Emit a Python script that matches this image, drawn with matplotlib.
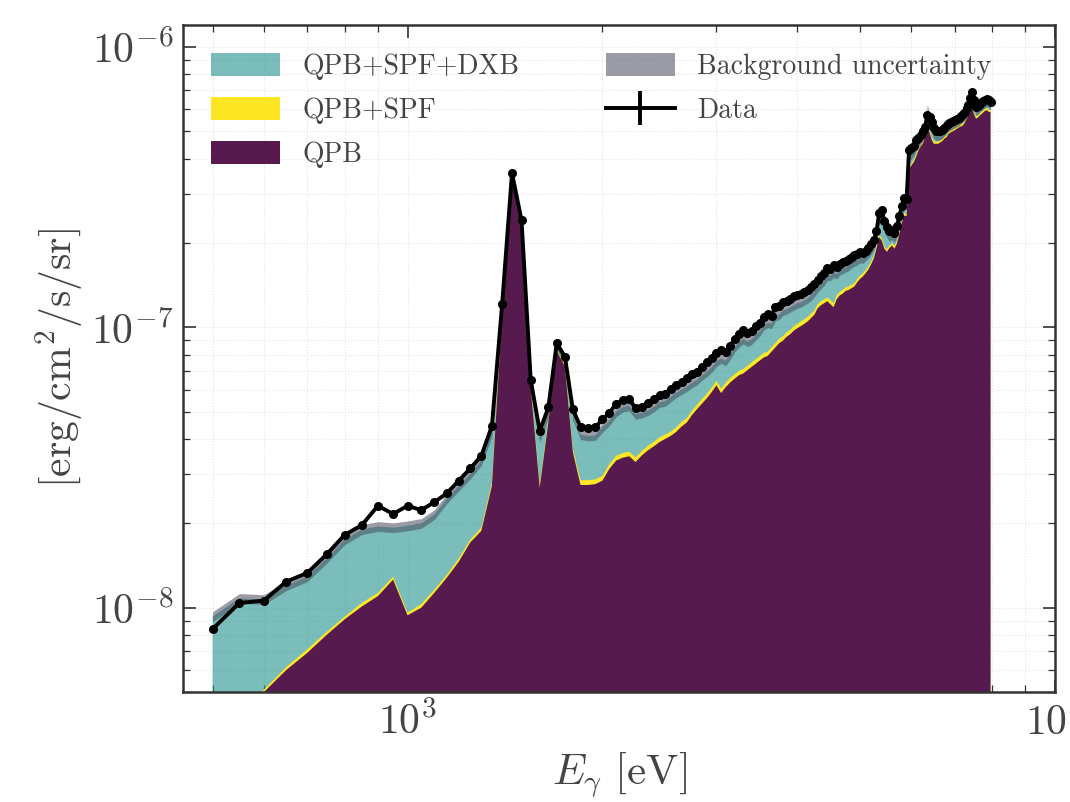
import numpy as np
import matplotlib
matplotlib.use("Agg")
import matplotlib.pyplot as plt
from matplotlib.lines import Line2D
from matplotlib.patches import Patch

# energy bins [eV], 50 eV wide
energy = np.arange(500, 8000, 50)

# all intensities in units of 1e-8 erg/cm^2/s/sr
UNIT = 1e-8

data = [
    0.84, 1.04, 1.06, 1.24, 1.33, 1.55, 1.82, 1.97, 2.31, 2.16,
    2.31, 2.23, 2.38, 2.56, 2.84, 3.14, 3.48, 4.45, 12.1, 35.5,
    24.1, 6.48, 4.27, 5.18, 8.77, 7.87, 5.10, 4.42, 4.39, 4.40,
    4.70, 4.95, 5.35, 5.50, 5.55, 5.15, 5.20, 5.38, 5.55, 5.75,
    5.80, 6.05, 6.25, 6.40, 6.60, 6.80, 6.95, 7.25, 7.50, 7.75,
    8.10, 8.30, 8.15, 8.60, 9.10, 9.50, 9.80, 9.55, 9.70, 10.1,
    10.4, 10.9, 11.2, 11.0, 11.8, 11.9, 12.3, 12.4, 12.6, 12.9,
    13.1, 13.2, 13.4, 13.6, 13.9, 14.3, 14.8, 15.2, 15.6, 16.3,
    16.2, 16.7, 16.4, 16.9, 17.1, 17.3, 17.5, 17.9, 18.1, 18.3,
    18.5, 18.4, 18.8, 19.2, 19.8, 20.5, 22.0, 25.5, 26.3, 24.0,
    22.8, 22.0, 22.3, 21.8, 23.0, 25.0, 27.0, 29.0, 28.6, 43.0,
    43.6, 44.5, 46.7, 47.5, 48.6, 50.0, 52.0, 57.0, 56.5, 54.0,
    51.4, 50.0, 50.3, 50.0, 50.6, 51.5, 52.7, 53.5, 54.1, 54.5,
    55.1, 55.5, 55.9, 56.8, 57.8, 58.5, 60.5, 62.0, 66.0, 69.0,
    64.5, 61.0, 61.5, 62.5, 63.6, 64.0, 64.8, 65.5, 64.9, 63.6,
]

# quiescent particle background
qpb = [
    0.36, 0.42, 0.50, 0.60, 0.69, 0.80, 0.91, 1.01, 1.10, 1.26,
    0.94, 1.00, 1.13, 1.28, 1.46, 1.71, 1.88, 2.72, 11.1, 33.5,
    22.6, 6.05, 2.68, 4.58, 8.25, 7.25, 3.60, 2.74, 2.74, 2.76,
    2.84, 3.13, 3.35, 3.43, 3.47, 3.31, 3.49, 3.64, 3.76, 3.90,
    4.00, 4.10, 4.24, 4.43, 4.58, 4.87, 5.11, 5.35, 5.59, 5.88,
    6.22, 5.83, 6.12, 6.36, 6.56, 6.75, 6.85, 7.04, 7.23, 7.42,
    7.62, 7.81, 7.91, 8.20, 8.49, 8.78, 8.97, 9.26, 9.45, 9.74,
    9.93, 10.1, 10.3, 10.5, 10.8, 11.1, 11.7, 12.0, 12.2, 12.4,
    12.1, 11.8, 12.6, 13.0, 13.2, 13.5, 13.6, 13.8, 14.0, 14.5,
    14.9, 15.2, 15.6, 16.1, 16.8, 17.6, 19.1, 21.0, 20.4, 19.1,
    18.6, 19.2, 19.6, 19.1, 19.9, 21.6, 23.6, 25.0, 25.0, 36.8,
    37.8, 38.8, 40.5, 42.7, 44.2, 45.2, 47.6, 51.8, 49.6, 46.6,
    45.2, 45.2, 45.2, 45.7, 46.2, 47.2, 47.7, 49.1, 49.6, 50.1,
    50.5, 51.1, 51.6, 52.1, 52.4, 53.6, 55.5, 57.0, 58.8, 60.4,
    57.5, 55.5, 56.0, 57.0, 57.7, 58.5, 59.3, 59.5, 58.8, 58.5,
]

# QPB + soft proton flares
qpb_spf = [
    0.37, 0.43, 0.51, 0.615, 0.71, 0.82, 0.93, 1.04, 1.13, 1.29,
    0.96, 1.03, 1.16, 1.31, 1.50, 1.75, 1.93, 2.80, 11.4, 34.0,
    23.0, 6.20, 2.75, 4.70, 8.40, 7.40, 3.70, 2.85, 2.85, 2.87,
    2.95, 3.25, 3.48, 3.56, 3.60, 3.44, 3.62, 3.78, 3.90, 4.05,
    4.15, 4.25, 4.40, 4.60, 4.75, 5.05, 5.30, 5.55, 5.80, 6.10,
    6.45, 6.05, 6.35, 6.60, 6.80, 7.00, 7.10, 7.30, 7.50, 7.70,
    7.90, 8.10, 8.20, 8.50, 8.80, 9.10, 9.30, 9.60, 9.80, 10.1,
    10.3, 10.5, 10.7, 10.9, 11.2, 11.5, 12.1, 12.4, 12.6, 12.8,
    12.5, 12.2, 13.0, 13.4, 13.6, 13.9, 14.0, 14.2, 14.4, 14.9,
    15.3, 15.6, 16.0, 16.5, 17.2, 18.0, 19.5, 21.4, 20.8, 19.5,
    19.0, 19.6, 20.0, 19.5, 20.3, 22.0, 24.0, 25.5, 25.5, 37.5,
    38.5, 39.5, 41.3, 43.5, 45.0, 46.0, 48.5, 52.7, 50.5, 47.5,
    46.0, 46.0, 46.0, 46.5, 47.0, 48.0, 48.5, 50.0, 50.5, 51.0,
    51.4, 52.0, 52.5, 53.0, 53.3, 54.5, 56.5, 58.0, 59.8, 61.4,
    58.5, 56.5, 57.0, 58.0, 58.7, 59.5, 60.3, 60.5, 59.8, 59.5,
]

# QPB + SPF + diffuse X-ray background (full background model)
qpb_spf_dxb = [
    0.93, 1.08, 1.07, 1.20, 1.29, 1.50, 1.75, 1.90, 1.95, 1.93,
    1.96, 2.00, 2.15, 2.45, 2.72, 3.00, 3.35, 4.25, 11.8, 35.0,
    23.6, 6.30, 4.05, 4.95, 8.60, 7.70, 4.85, 4.15, 4.10, 4.12,
    4.40, 4.65, 5.00, 5.20, 5.25, 4.90, 4.95, 5.05, 5.20, 5.40,
    5.45, 5.65, 5.85, 6.00, 6.15, 6.35, 6.50, 6.75, 6.95, 7.20,
    7.55, 7.75, 7.60, 8.00, 8.50, 8.85, 9.10, 8.90, 9.05, 9.40,
    9.70, 10.2, 10.4, 10.3, 11.0, 11.1, 11.5, 11.6, 11.8, 12.0,
    12.2, 12.3, 12.5, 12.7, 13.0, 13.4, 13.9, 14.3, 14.7, 15.3,
    15.3, 15.7, 15.5, 16.0, 16.2, 16.4, 16.6, 17.0, 17.2, 17.4,
    17.7, 17.6, 18.0, 18.4, 19.0, 19.7, 21.2, 24.5, 24.8, 22.8,
    21.8, 21.1, 21.4, 20.9, 22.0, 23.8, 25.8, 27.6, 27.4, 41.0,
    41.5, 42.5, 44.5, 45.5, 46.8, 48.0, 50.5, 60.0, 55.5, 51.5,
    49.2, 48.3, 48.5, 48.5, 49.2, 50.2, 51.2, 52.0, 52.6, 53.0,
    53.6, 54.0, 54.5, 55.3, 56.2, 57.0, 59.0, 60.5, 64.0, 68.5,
    63.0, 59.5, 60.0, 61.0, 62.0, 62.5, 63.3, 64.0, 63.4, 62.2,
]

# fractional uncertainty on the background model
bkg_unc = 0.04

data = np.array(data) * UNIT
qpb = np.array(qpb) * UNIT
qpb_spf = np.array(qpb_spf) * UNIT
qpb_spf_dxb = np.array(qpb_spf_dxb) * UNIT

plt.rcParams['font.family'] = 'serif'
plt.rcParams['font.serif'] = ['cmr10']
plt.rcParams['mathtext.fontset'] = 'cm'
plt.rcParams['axes.formatter.use_mathtext'] = True
plt.rcParams['axes.unicode_minus'] = True

TEXT = '#444444'
c_dxb = plt.cm.viridis(0.5)
c_spf = '#fde725'
c_qpb = '#561a4e'
c_unc = '#4a4c5e'

fig = plt.figure(figsize=(10.7, 8.02), dpi=100)
ax = fig.add_axes([0.171, 0.137, 0.815, 0.832])

floor = 1e-10
ax.fill_between(energy, floor, qpb_spf_dxb, color=c_dxb, alpha=0.6, lw=0)
ax.fill_between(energy, floor, qpb_spf, color=c_spf, lw=0)
ax.fill_between(energy, floor, qpb, color=c_qpb, lw=0)
ax.fill_between(energy, qpb_spf_dxb * (1 - bkg_unc), qpb_spf_dxb * (1 + bkg_unc),
                color=c_unc, alpha=0.55, lw=0)
ax.plot(energy, data, color='k', lw=2.8, marker='o', ms=5.5, zorder=5)

ax.set_xscale('log')
ax.set_yscale('log')
ax.set_xlim(450, 1e4)
ax.set_ylim(5e-9, 1.2e-6)

ax.set_xlabel(r'$E_\gamma\ [\mathrm{eV}]$', fontsize=31, color=TEXT, labelpad=6)
ax.set_ylabel(r'$[\mathrm{erg/cm^2/s/sr}]$', fontsize=30, color=TEXT, labelpad=4)

ax.tick_params(which='both', direction='in', top=True, right=True,
               labelsize=30, labelcolor=TEXT, color='#333333')
ax.tick_params(which='major', length=9, width=1.2, pad=7)
ax.tick_params(which='minor', length=5, width=0.9)
for s in ax.spines.values():
    s.set_linewidth(1.8)
    s.set_color('#333333')

ax.grid(which='both', ls=':', lw=0.8, color='#e4e4e4')
ax.set_axisbelow(True)

handles = [
    Patch(facecolor=c_dxb, alpha=0.6, edgecolor='none', label='QPB+SPF+DXB'),
    Patch(facecolor=c_spf, edgecolor='none', label='QPB+SPF'),
    Patch(facecolor=c_qpb, edgecolor='none', label='QPB'),
    Patch(facecolor=c_unc, alpha=0.55, edgecolor='none', label='Background uncertainty'),
    Line2D([], [], color='k', lw=2.8, marker='|', ms=24, mew=2.8, label='Data'),
]
leg = ax.legend(handles=handles, loc='upper left', ncol=2, frameon=False,
                fontsize=20, handlelength=2.5, handleheight=0.9,
                labelspacing=0.62, columnspacing=3.1, handletextpad=0.8,
                borderaxespad=0.6, bbox_to_anchor=(0.0, 1.0))
for t in leg.get_texts():
    t.set_color(TEXT)

fig.savefig('out.png', dpi=100)
